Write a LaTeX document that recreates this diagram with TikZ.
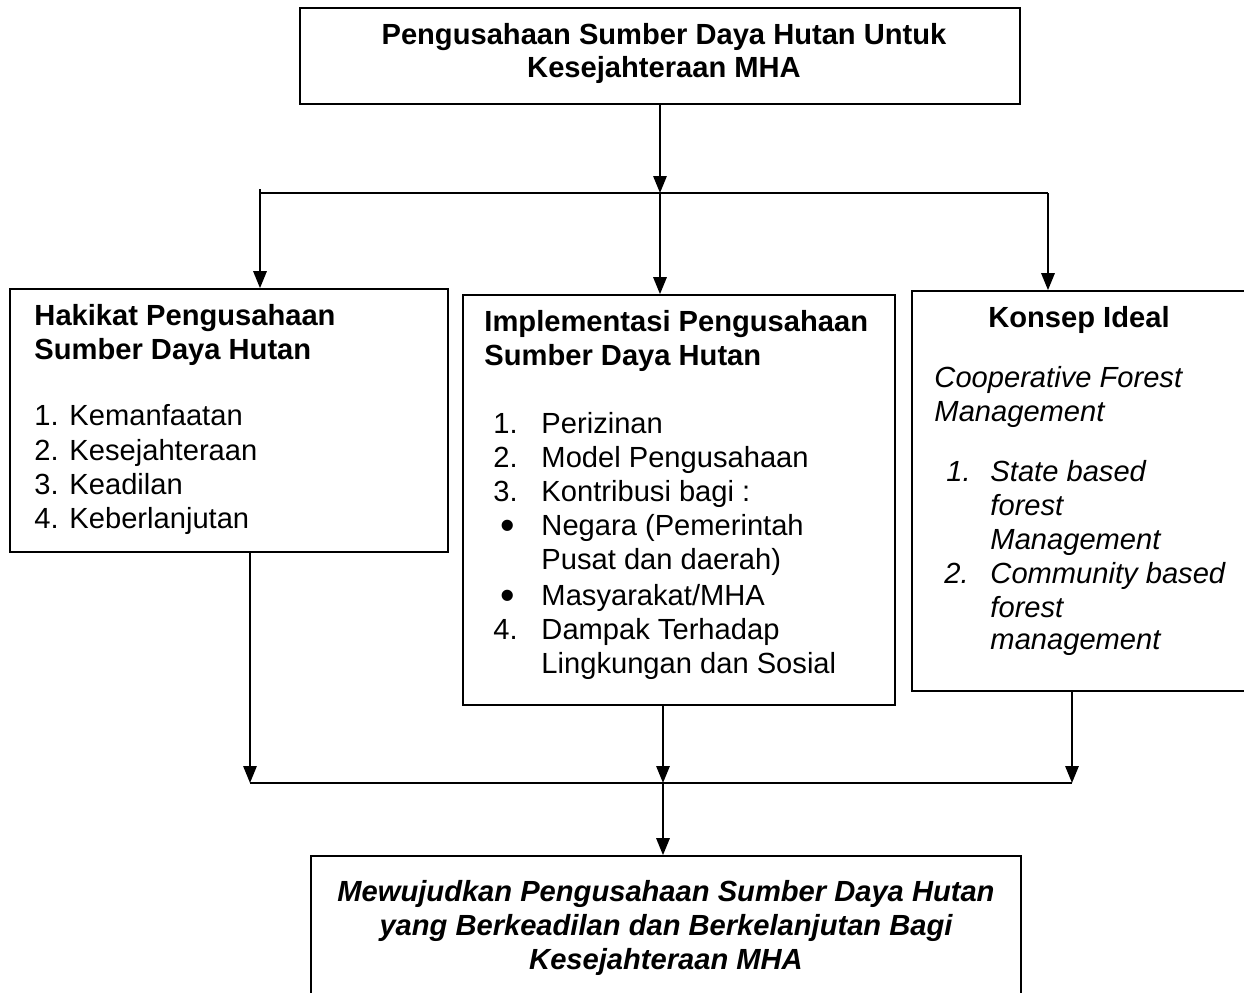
\documentclass[tikz,border=0pt]{standalone}
\usepackage{fontspec}
\setmainfont{Liberation Sans}
\usetikzlibrary{arrows.meta,fit}
\begin{document}
\begin{tikzpicture}[x=0.412pt,y=-0.412pt,
  box/.style={draw,line width=0.7pt,inner sep=0pt},
  conn/.style={line width=0.8pt},
  arr/.style={conn,-{Triangle[length=7pt,width=5.5pt]}},
  tl/.style={anchor=base west,inner sep=0pt,font=\fontsize{12}{14}\selectfont},
  tb/.style={tl,font=\fontsize{12}{14}\selectfont\bfseries},
  ti/.style={tl,font=\fontsize{12}{14}\selectfont\itshape},
  tc/.style={anchor=base,inner sep=0pt,font=\fontsize{12}{14}\selectfont\bfseries},
  tci/.style={anchor=base,inner sep=0pt,font=\fontsize{12}{14}\selectfont\bfseries\itshape},
  bul/.style={anchor=base,inner sep=0pt,font=\fontsize{17}{18}\selectfont},
  ]
\useasboundingbox (0,0) rectangle (1244,993);

% boxes
\node[box,fit={(300,8) (1020,104)}] (top) {};
\node[box,fit={(10,289) (448,552)}] (left) {};
\node[box,fit={(463,295) (895,705)}] (mid) {};
\node[box,fit={(912,291) (1262,691)}] (right) {};
\node[box,fit={(311,856) (1021,1016)}] (bottom) {};

% top connectors
\coordinate (sl) at (260,193);
\coordinate (sr) at (1048,193);
\draw[arr] (top.south) -- (top.south |- sl);
\draw[conn] (sl) -- (sr);
\draw[arr] ([yshift=1.6pt]sl) -- (sl |- left.north);
\draw[arr] (top.south |- sl) -- (top.south |- mid.north);
\draw[arr] (sr) -- (sr |- right.north);

% bottom connectors
\coordinate (bl) at (250,783);
\coordinate (bm) at (663,783);
\coordinate (br) at (1072,783);
\draw[arr] (bl |- left.south) -- (bl);
\draw[arr] (bm |- mid.south) -- (bm);
\draw[arr] (br |- right.south) -- (br);
\draw[conn] (bl) -- (br);
\draw[arr] (bm) -- (bm |- bottom.north);

% top text
\node[tc] (t1) at (664,44) {Pengusahaan Sumber Daya Hutan Untuk};
\node[tc] (t2) at (664,77) {Kesejahteraan MHA};

% left box text
\node[tb] (lh1) at (34,325) {Hakikat Pengusahaan};
\node[tb] (lh2) at (34,359) {Sumber Daya Hutan};
\node[tl] (ln1) at (34,425) {1.};
\node[tl] (li1) at (69,425) {Kemanfaatan};
\node[tl] (ln2) at (34,460) {2.};
\node[tl] (li2) at (69,460) {Kesejahteraan};
\node[tl] (ln3) at (34,494) {3.};
\node[tl] (li3) at (69,494) {Keadilan};
\node[tl] (ln4) at (34,528) {4.};
\node[tl] (li4) at (69,528) {Keberlanjutan};

% middle box text
\node[tb] (mh1) at (484,331) {Implementasi Pengusahaan};
\node[tb] (mh2) at (484,365) {Sumber Daya Hutan};
\node[tl] (mn1) at (493,433) {1.};
\node[tl] (mi1) at (541,433) {Perizinan};
\node[tl] (mn2) at (493,467) {2.};
\node[tl] (mi2) at (541,467) {Model Pengusahaan};
\node[tl] (mn3) at (493,501) {3.};
\node[tl] (mi3) at (541,501) {Kontribusi bagi :};
\node[bul] (mb1) at (508,539) {•};
\node[tl] (mi4) at (541,535) {Negara (Pemerintah};
\node[tl] (mi5) at (541,569) {Pusat dan daerah)};
\node[bul] (mb2) at (508,609) {•};
\node[tl] (mi6) at (541,605) {Masyarakat/MHA};
\node[tl] (mn4) at (493,639) {4.};
\node[tl] (mi7) at (541,639) {Dampak Terhadap};
\node[tl] (mi8) at (541,673) {Lingkungan dan Sosial};

% right box text
\node[tc] (rh) at (1079,327) {Konsep Ideal};
\node[ti] (rc1) at (934,387) {Cooperative Forest};
\node[ti] (rc2) at (934,421) {Management};
\node[ti] (rn1) at (946,481) {1.};
\node[ti] (ri1) at (990,481) {State based};
\node[ti] (ri2) at (990,515) {forest};
\node[ti] (ri3) at (990,549) {Management};
\node[ti] (rn2) at (944,583) {2.};
\node[ti] (ri4) at (990,583) {Community based};
\node[ti] (ri5) at (990,617) {forest};
\node[ti] (ri6) at (990,649) {management};

% bottom text
\node[tci] (b1) at (666,901) {Mewujudkan Pengusahaan Sumber Daya Hutan};
\node[tci] (b2) at (666,935) {yang Berkeadilan dan Berkelanjutan Bagi};
\node[tci] (b3) at (666,969) {Kesejahteraan MHA};
\end{tikzpicture}
\end{document}
